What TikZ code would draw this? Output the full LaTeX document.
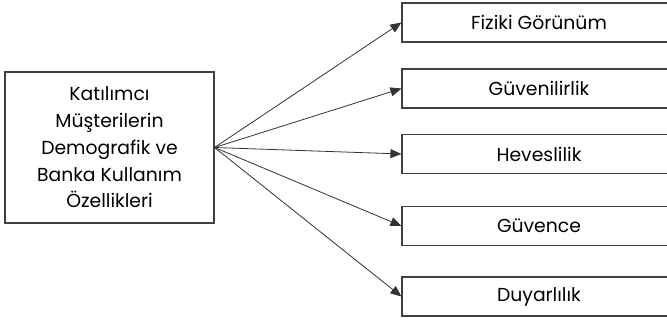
\documentclass[tikz,border=0pt]{standalone}
\usepackage{fontspec}
\setmainfont{Poppins}
\usetikzlibrary{positioning,arrows.meta}

\begin{document}
\begin{tikzpicture}[x=1pt,y=-1pt, every node/.style={font=\fontsize{18.8}{26.7}\selectfont},
    box/.style={draw=black!75,line width=1.1pt,fill=white,inner sep=0pt,align=center},
    dimbox/.style={box,minimum width=274pt,minimum height=39pt},
    arr/.style={-{Triangle[length=11pt,width=9pt]},line width=0.8pt,draw=black!80}]
  \clip (0,0) rectangle (667,320);
  \fill[white] (0,0) rectangle (667,320);

  \node[box,minimum width=209pt,minimum height=151pt] (src) at (109.5,147.5)
    {Katılımcı\\Müşterilerin\\Demografik ve\\Banka Kullanım\\Özellikleri};

  \node[dimbox] (fiz) at (539,22.5) {Fiziki Görünüm};
  \node[dimbox] (guv) at (539,88.5) {Güvenilirlik};
  \node[dimbox] (hev) at (539,154) {Heveslilik};
  \node[dimbox] (gce) at (539,226) {Güvence};
  \node[dimbox] (duy) at (539,296.5) {Duyarlılık};

  \draw[arr] (src.east) -- (fiz.west);
  \draw[arr] (src.east) -- (guv.west);
  \draw[arr] (src.east) -- (hev.west);
  \draw[arr] (src.east) -- (gce.west);
  \draw[arr] (src.east) -- (duy.west);
\end{tikzpicture}
\end{document}
